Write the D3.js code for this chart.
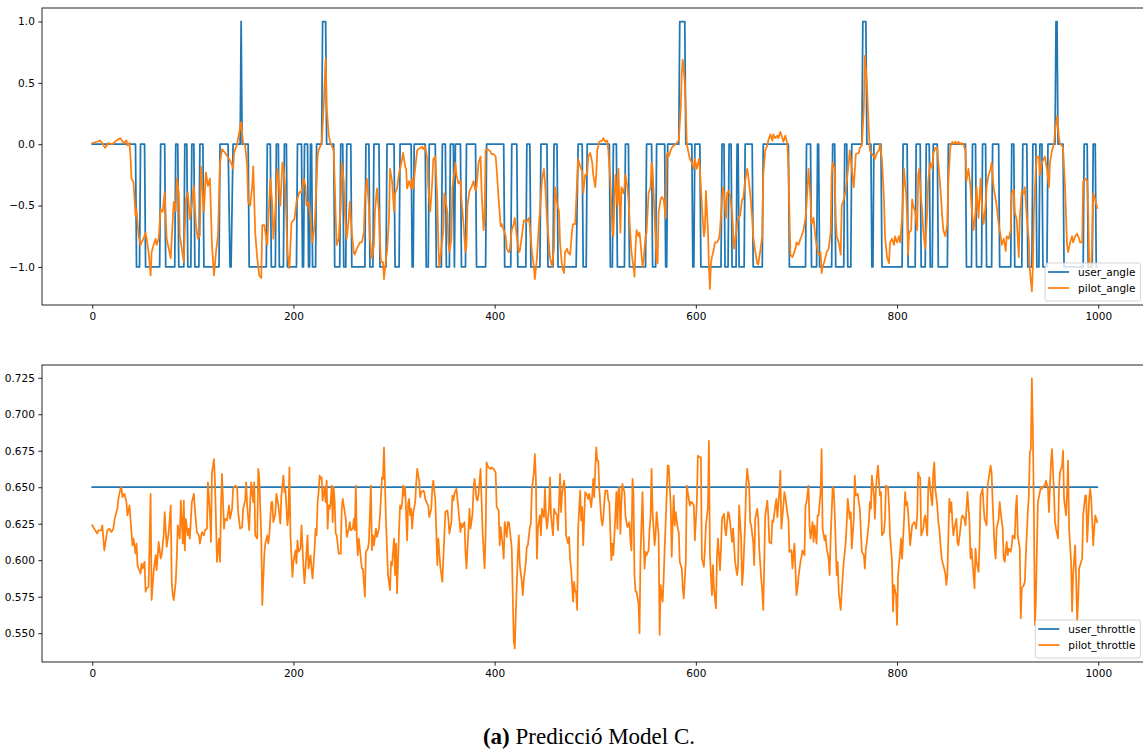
<!DOCTYPE html>
<html>
<head>
<meta charset="utf-8">
<script src="https://cdn.jsdelivr.net/npm/d3@7/dist/d3.min.js"></script>
<style>
  body { margin: 0; background: #fff; }
  svg text { font-family: "DejaVu Sans", sans-serif; }
</style>
</head>
<body>
<svg id="chart" width="1143" height="756"></svg>
<script>
// user_angle as runs of equal value: [first index, last index, value]
const userAngleRuns = [
  [0,43,0],[44,47,-1],[48,52,0],[53,67,-1],[68,72,0],[73,82,-1],[83,85,0],[86,91,-1],[92,94,0],[95,98,-1],
  [99,101,0],[102,106,-1],[107,110,0],[111,126,-1],[127,135,0],[136,136,-0.5],[137,138,-1],[139,139,-0.5],
  [140,147,0],[148,148,1],[149,155,0],[156,173,-1],[174,177,0],[178,182,-1],[183,185,0],[186,190,-1],
  [191,193,0],[194,203,-1],[204,208,0],[209,210,-1],[211,214,0],[215,216,-1],[217,218,0],[219,222,-1],
  [223,228,0],[229,232,1],[233,240,0],[241,246,-1],[247,249,0],[250,252,-1],[253,257,0],[258,271,-1],
  [272,275,0],[276,279,-1],[280,285,0],[286,292,-1],[293,300,0],[301,305,-1],[306,317,0],[318,319,-1],
  [320,331,0],[332,334,-1],[335,341,0],[342,347,-1],[348,351,0],[352,355,-1],[356,359,0],[360,360,-1],
  [361,366,0],[367,371,-1],[372,381,0],[382,391,-1],[392,409,0],[410,416,-1],[417,422,0],[423,431,-1],
  [432,435,0],[436,445,-1],[446,452,0],[453,458,-1],[459,462,0],[463,481,-1],[482,482,-0.5],[483,487,0],
  [488,491,-1],[492,514,0],[515,517,-1],[518,521,0],[522,529,-1],[530,533,0],[534,550,-1],[551,556,0],
  [557,560,-1],[561,569,0],[570,571,-1],[572,583,0],[584,589,1],[590,596,0],[597,598,-1],
  [599,604,0],[605,625,-1],[626,628,0],[629,632,-1],[633,635,0],[636,640,-1],[641,642,0],[643,648,-1],
  [649,656,0],[657,666,-1],[667,692,0],[693,709,-1],[710,714,0],[715,720,-1],[721,722,0],[723,735,-1],
  [736,738,0],[739,747,-1],[748,750,0],[751,754,-1],[755,765,0],[766,769,1],[770,774,0],[775,776,-1],
  [777,784,0],[785,805,-1],[806,810,0],[811,818,-1],[819,823,0],[824,828,-1],[829,832,0],[833,835,-1],
  [836,840,0],[841,850,-1],[851,868,0],[869,874,-1],[875,878,0],[879,884,-1],[885,888,0],[889,894,-1],
  [895,901,0],[902,913,-1],[914,916,0],[917,924,-1],[925,929,0],[930,934,-1],[935,938,0],[939,941,-1],
  [942,944,0],[945,949,-1],[950,957,0],[958,959,1],[960,965,0],[966,985,-1],[986,989,0],[990,994,-1],
  [995,997,0],[998,999,-1]
]

const pilotAngle = [
  [0,0.01],[5,0.02],[8,0.03],[13,-0.03],[16,0.01],[20,0],[24,0.03],[28,0.05],[31,0.01],[34,0.03],[35,-0.01],
  [37,0.01],[38,-0.1],[39,-0.28],[41,-0.31],[43,-0.58],[44,-0.53],[46,-0.74],[48,-0.82],[49,-0.8],[51,-0.77],
  [53,-0.72],[54,-0.77],[56,-0.88],[58,-1.07],[59,-0.88],[61,-0.82],[63,-0.77],[64,-0.82],[66,-0.77],[68,-0.53],
  [70,-0.55],[72,-0.39],[74,-0.77],[76,-0.85],[78,-0.93],[79,-0.77],[81,-0.47],[83,-0.55],[84,-0.28],[86,-0.39],
  [87,-0.74],[91,-0.96],[93,-0.45],[95,-0.39],[97,-0.61],[99,-0.5],[101,-0.34],[103,-0.66],[105,-0.77],[107,-0.74],
  [108,-0.18],[111,-0.55],[113,-0.23],[115,-0.34],[117,-0.28],[119,-0.82],[121,-1.07],[123,-0.88],[125,-0.74],
  [127,-0.15],[129,-0.04],[132,-0.07],[136,-0.12],[138,-0.15],[140,-0.2],[141,-0.07],[144,0],[146,0.09],[148,0.18],
  [149,0.09],[150,0.01],[152,-0.01],[154,-0.18],[155,-0.47],[157,-0.5],[159,-0.34],[160,-0.18],[162,-0.72],
  [164,-0.93],[166,-1.07],[168,-1.09],[169,-0.66],[171,-0.66],[174,-0.82],[175,-0.64],[177,-0.28],[179,-0.5],
  [180,-0.77],[182,-0.55],[184,-0.2],[185,-0.28],[187,-0.5],[189,-0.15],[190,-0.18],[192,-0.36],[194,-0.88],
  [196,-1.01],[198,-0.64],[201,-0.61],[203,-0.47],[206,-0.39],[208,-0.39],[210,-0.28],[212,-0.34],[213,-0.5],
  [215,-0.47],[217,-0.6],[218,-0.72],[219,-0.8],[221,-0.66],[222,-0.5],[223,-0.3],[224,-0.1],[225,-0.05],
  [227,-0.01],[228,0],[230,0.3],[232,0.7],[233,0.3],[235,0.08],[237,0],[238,-0.01],[240,-0.05],[241,-0.3],
  [242,-0.6],[243,-0.82],[245,-0.77],[247,-0.5],[248,-0.15],[250,-0.3],[251,-0.55],[253,-0.77],[255,-0.6],
  [256,-0.47],[258,-0.72],[260,-0.88],[261,-0.9],[263,-0.85],[265,-0.82],[266,-0.8],[268,-0.8],[270,-0.72],
  [271,-0.45],[273,-0.28],[275,-0.5],[276,-0.77],[278,-0.93],[280,-0.82],[281,-0.55],[283,-0.36],[285,-0.55],
  [286,-0.8],[287,-0.96],[289,-0.96],[290,-1.1],[292,-0.93],[293,-0.88],[295,-0.6],[296,-0.2],[298,-0.3],
  [300,-0.55],[301,-0.4],[303,-0.36],[305,-0.23],[306,-0.2],[308,-0.12],[309,-0.07],[311,-0.18],[312,-0.2],
  [313,-0.36],[315,-0.3],[317,-0.36],[318,-0.28],[319,-0.36],[321,-0.2],[323,-0.05],[324,-0.04],[326,-0.03],
  [328,-0.02],[329,-0.04],[331,-0.02],[333,-0.12],[334,-0.35],[336,-0.55],[338,-0.3],[339,-0.12],[341,-0.1],
  [343,-0.45],[344,-0.82],[345,-1.0],[347,-0.85],[349,-0.7],[350,-0.4],[351,-0.45],[353,-0.55],[354,-0.8],
  [355,-0.88],[357,-0.77],[358,-0.36],[359,-0.28],[360,-0.23],[361,-0.15],[362,-0.25],[364,-0.32],[366,-0.3],
  [367,-0.45],[369,-0.65],[371,-0.88],[372,-0.82],[373,-0.5],[375,-0.38],[377,-0.35],[379,-0.3],[381,-0.38],
  [382,-0.35],[384,-0.15],[386,-0.1],[387,-0.38],[389,-0.7],[390,-0.6],[391,-0.05],[393,-0.04],[396,-0.06],
  [397,-0.08],[399,-0.08],[401,-0.1],[402,-0.2],[404,-0.45],[406,-0.67],[407,-0.65],[409,-0.7],[411,-0.75],
  [412,-0.85],[414,-0.88],[415,-0.87],[417,-0.7],[419,-0.65],[420,-0.6],[422,-0.75],[424,-0.88],[425,-0.87],
  [427,-0.75],[429,-0.62],[430,-0.62],[432,-0.63],[434,-0.6],[435,-0.67],[437,-0.87],[439,-1.0],[440,-1.1],
  [442,-0.93],[444,-0.65],[445,-0.55],[447,-0.3],[449,-0.2],[450,-0.3],[452,-0.6],[454,-0.82],[455,-0.92],
  [457,-1.0],[459,-0.85],[460,-0.35],[462,-0.48],[464,-0.55],[465,-0.8],[467,-1.0],[469,-1.05],[470,-0.88],
  [472,-0.85],[473,-0.88],[475,-0.9],[477,-0.7],[478,-0.65],[480,-0.65],[482,-0.3],[483,-0.12],[485,-0.18],
  [487,-0.22],[488,-0.4],[490,-0.25],[492,-0.25],[493,-0.1],[495,-0.07],[497,-0.15],[498,-0.25],[500,-0.35],
  [501,-0.25],[502,-0.05],[504,0.02],[507,0.03],[508,0.05],[510,0.02],[512,0.03],[513,-0.05],[515,-0.3],
  [517,-0.7],[518,-0.75],[519,-0.5],[520,-0.25],[522,-0.5],[523,-0.2],[524,-0.45],[525,-0.72],[526,-0.35],
  [528,-0.4],[529,-0.35],[530,-0.25],[532,-0.35],[533,-0.45],[535,-0.75],[536,-0.88],[538,-1.0],[539,-1.08],
  [540,-0.85],[541,-0.7],[543,-0.75],[544,-0.72],[545,-0.8],[547,-1.0],[548,-0.95],[550,-0.75],[551,-0.72],
  [553,-0.4],[555,-0.35],[556,-0.15],[557,-0.2],[559,-0.6],[561,-0.95],[562,-0.97],[563,-0.55],[565,-0.45],
  [566,-0.43],[568,-0.45],[570,-0.6],[571,-0.1],[572,-0.07],[573,-0.1],[575,-0.05],[576,-0.03],[578,-0.01],
  [580,0],[581,0.01],[583,0.03],[585,0.3],[586,0.58],[587,0.69],[589,0.5],[590,0.3],[591,0],[593,-0.08],
  [594,-0.12],[596,-0.15],[598,-0.2],[599,-0.12],[601,-0.2],[603,-0.12],[604,-0.2],[606,-0.5],[608,-0.75],
  [609,-0.7],[610,-0.38],[612,-0.7],[613,-1.0],[614,-1.18],[615,-0.97],[616,-0.92],[618,-0.85],[619,-0.8],
  [621,-0.8],[623,-0.77],[624,-0.7],[626,-0.45],[627,-0.35],[628,-0.4],[630,-0.6],[631,-0.4],[633,-0.38],
  [634,-0.42],[636,-0.55],[638,-0.85],[639,-0.8],[641,-0.65],[642,-0.6],[644,-0.58],[646,-0.45],[647,-0.45],
  [649,-0.3],[651,-0.2],[652,-0.25],[654,-0.4],[656,-0.6],[657,-0.75],[659,-0.87],[661,-0.97],[662,-0.98],
  [664,-0.87],[666,-0.75],[667,-0.25],[669,-0.05],[671,-0.01],[672,0.03],[674,0.08],[676,0.03],[677,0.08],
  [679,0.05],[681,0.07],[682,0.05],[684,0.1],[686,0.05],[687,0.02],[689,0.07],[691,0],[692,-0.2],[694,-0.9],
  [696,-0.92],[697,-0.9],[699,-0.85],[700,-0.8],[702,-0.82],[704,-0.77],[705,-0.75],[707,-0.7],[709,-0.6],
  [710,-0.5],[712,-0.2],[714,-0.45],[715,-0.65],[717,-0.6],[719,-0.77],[720,-0.82],[722,-0.9],[724,-0.88],
  [725,-1.05],[726,-1.0],[728,-0.95],[730,-0.88],[732,-0.85],[734,-0.72],[735,-0.25],[736,-0.15],[738,-0.2],
  [739,-0.6],[740,-0.75],[742,-0.8],[744,-0.9],[745,-0.5],[747,-0.45],[749,-0.38],[750,-0.3],[752,-0.15],
  [753,-0.05],[755,-0.2],[757,-0.35],[759,-0.08],[762,-0.07],[763,-0.03],[765,-0.01],[767,0.3],[768,0.72],
  [770,0.5],[772,0.1],[773,-0.05],[775,-0.08],[777,-0.1],[778,-0.12],[780,-0.07],[782,-0.05],[783,0],
  [785,-0.12],[787,-0.45],[788,-0.75],[790,-0.92],[792,-0.97],[793,-0.8],[795,-0.77],[797,-0.82],[798,-0.75],
  [800,-0.8],[802,-0.75],[803,-0.8],[805,-0.6],[807,-0.2],[808,-0.32],[809,-0.4],[810,-0.6],[811,-0.9],
  [812,-0.72],[814,-0.7],[815,-0.45],[816,-0.5],[818,-0.55],[820,-0.7],[821,-0.25],[822,-0.2],[824,-0.45],
  [825,-0.55],[826,-0.7],[828,-0.85],[830,-0.55],[831,-0.3],[833,-0.15],[835,-0.2],[836,-0.08],[838,-0.03],
  [840,-0.03],[841,-0.15],[843,-0.35],[845,-0.6],[846,-0.7],[848,-0.75],[850,-0.65],[851,-0.3],[853,-0.02],
  [855,0.02],[856,0],[858,0.02],[860,0],[861,0.02],[863,0],[864,0.01],[866,0],[868,-0.05],[869,-0.3],
  [871,-0.2],[873,-0.35],[874,-0.5],[876,-0.7],[878,-0.55],[879,-0.35],[881,-0.6],[883,-0.28],[884,-0.45],
  [886,-0.65],[888,-0.5],[889,-0.35],[891,-0.25],[893,-0.2],[894,-0.15],[896,-0.35],[898,-0.45],[899,-0.5],
  [901,-0.65],[903,-0.75],[904,-0.82],[906,-0.77],[908,-0.87],[909,-0.75],[911,-0.77],[913,-0.7],[914,-0.4],
  [916,-0.37],[917,-0.55],[919,-0.62],[921,-0.92],[922,-0.6],[924,-0.38],[926,-0.4],[927,-0.35],[929,-0.6],
  [931,-0.78],[932,-1.02],[934,-1.2],[935,-1.0],[936,-0.55],[938,-0.2],[939,-0.1],[941,-0.1],[942,-0.25],
  [944,-0.15],[946,-0.12],[947,-0.1],[949,-0.2],[951,-0.35],[952,-0.15],[954,-0.05],[956,0],[957,0.1],
  [959,0.23],[961,0.05],[962,0],[964,-0.01],[965,-0.03],[967,-0.35],[969,-0.82],[970,-0.88],[972,-0.8],
  [974,-0.75],[975,-0.8],[977,-0.75],[979,-0.73],[980,-0.75],[982,-0.8],[984,-0.8],[985,-0.3],[987,-0.28],
  [989,-0.3],[990,-0.55],[991,-0.97],[993,-1.0],[994,-0.8],[995,-0.4],[997,-0.45],[999,-0.52]
]

const userThrottleRuns = [[0, 999, 0.65]]

const pilotThrottle = [
  [0,0.6239],[2,0.6216],[5,0.6182],[6,0.6205],[9,0.6205],[10,0.6239],[12,0.6068],[15,0.6205],[17,0.6216],
  [19,0.6193],[21,0.6216],[22,0.6273],[24,0.633],[25,0.6352],[26,0.642],[28,0.6489],[29,0.65],[30,0.6432],
  [32,0.6455],[34,0.6398],[35,0.6307],[37,0.6375],[38,0.6284],[40,0.6102],[41,0.6148],[43,0.6045],[44,0.6114],
  [45,0.5966],[46,0.5943],[48,0.5909],[49,0.5977],[50,0.5943],[52,0.5989],[53,0.5784],[54,0.5807],[56,0.5818],
  [58,0.6455],[59,0.5727],[61,0.592],[63,0.6034],[64,0.5932],[66,0.6125],[68,0.6011],[69,0.6034],[71,0.617],
  [72,0.633],[74,0.6091],[76,0.6193],[78,0.6375],[79,0.5852],[80,0.5761],[81,0.5727],[83,0.5852],[84,0.6011],
  [85,0.6239],[87,0.6148],[88,0.6409],[90,0.6114],[91,0.6409],[92,0.6068],[93,0.6284],[95,0.617],[96,0.6216],
  [97,0.6148],[99,0.6398],[101,0.6455],[102,0.6352],[104,0.6193],[106,0.617],[107,0.6114],[109,0.6193],
  [111,0.617],[112,0.6205],[114,0.6216],[115,0.6534],[117,0.6318],[118,0.6125],[119,0.6602],[121,0.6693],
  [122,0.6534],[124,0.5989],[126,0.6148],[127,0.5989],[128,0.6375],[129,0.6591],[131,0.6216],[132,0.6284],
  [134,0.6273],[136,0.6375],[137,0.6284],[139,0.6352],[140,0.6489],[142,0.6511],[144,0.65],[145,0.633],
  [147,0.6216],[149,0.6227],[150,0.6352],[152,0.6409],[153,0.6534],[154,0.6375],[156,0.6205],[157,0.6398],
  [158,0.6534],[160,0.6398],[161,0.6534],[162,0.617],[164,0.6148],[165,0.6625],[166,0.6568],[168,0.6159],
  [169,0.5693],[171,0.6034],[172,0.6114],[174,0.617],[175,0.6114],[176,0.617],[178,0.6398],[179,0.6398],
  [180,0.6261],[182,0.6318],[183,0.6455],[185,0.6375],[187,0.625],[188,0.6443],[190,0.658],[191,0.6466],
  [192,0.6489],[194,0.6239],[195,0.6307],[196,0.6636],[197,0.617],[199,0.5886],[200,0.5989],[202,0.6068],
  [203,0.5977],[204,0.6136],[205,0.6057],[207,0.608],[208,0.6239],[210,0.5943],[211,0.5841],[213,0.6057],
  [214,0.617],[215,0.5943],[217,0.6034],[218,0.5943],[219,0.5875],[221,0.608],[222,0.6216],[223,0.617],
  [224,0.6398],[225,0.6466],[226,0.658],[227,0.6557],[228,0.6568],[229,0.6409],[231,0.65],[232,0.6398],
  [233,0.6545],[234,0.6216],[235,0.6375],[236,0.6352],[237,0.6398],[238,0.6511],[239,0.6261],[240,0.65],
  [241,0.6398],[242,0.6182],[243,0.617],[245,0.6045],[247,0.6045],[248,0.6352],[249,0.642],[250,0.6375],
  [252,0.6284],[253,0.6159],[255,0.6216],[256,0.6261],[257,0.6205],[259,0.6216],[260,0.6284],[261,0.6205],
  [262,0.6511],[263,0.6148],[264,0.6034],[265,0.6148],[266,0.608],[268,0.5943],[269,0.5943],[271,0.575],
  [272,0.6057],[274,0.608],[275,0.6125],[277,0.6511],[278,0.6068],[279,0.617],[280,0.6102],[282,0.6216],
  [283,0.6159],[285,0.6216],[286,0.6307],[288,0.6568],[289,0.6557],[290,0.6773],[292,0.6261],[293,0.608],
  [294,0.5898],[296,0.5795],[297,0.5989],[298,0.5966],[300,0.6148],[301,0.5898],[302,0.6114],[303,0.5773],
  [305,0.6216],[306,0.6375],[307,0.6352],[308,0.6386],[309,0.6511],[310,0.6443],[311,0.65],[313,0.6136],
  [314,0.6386],[315,0.642],[316,0.6307],[317,0.6352],[318,0.6216],[319,0.6318],[321,0.6398],[322,0.6523],
  [323,0.6625],[325,0.6545],[326,0.6432],[327,0.6466],[329,0.6477],[330,0.6466],[331,0.642],[333,0.6386],
  [334,0.6375],[335,0.6295],[337,0.6352],[338,0.6489],[339,0.6545],[340,0.6477],[341,0.642],[343,0.5966],
  [344,0.6148],[346,0.5955],[348,0.5852],[349,0.6011],[351,0.633],[353,0.6341],[354,0.6284],[355,0.6182],
  [357,0.6261],[358,0.6443],[359,0.6409],[360,0.6455],[362,0.6489],[363,0.642],[364,0.6352],[366,0.6193],
  [367,0.625],[368,0.6227],[370,0.6261],[371,0.6057],[372,0.5943],[374,0.6216],[375,0.6352],[376,0.6216],
  [378,0.6318],[379,0.6489],[380,0.6557],[382,0.642],[383,0.6409],[384,0.6455],[386,0.6625],[387,0.642],
  [388,0.6193],[390,0.5943],[391,0.617],[392,0.667],[393,0.6648],[394,0.6636],[396,0.6625],[397,0.6636],
  [399,0.6625],[401,0.6602],[402,0.6364],[404,0.6341],[405,0.6102],[406,0.6227],[408,0.6102],[409,0.6011],
  [410,0.6261],[412,0.6159],[413,0.6261],[414,0.6261],[415,0.6216],[417,0.608],[418,0.5761],[419,0.5443],
  [420,0.5395],[421,0.5625],[423,0.6034],[424,0.617],[425,0.5966],[427,0.5852],[428,0.5761],[429,0.5864],
  [431,0.5989],[432,0.6091],[433,0.6102],[435,0.6227],[436,0.625],[437,0.6489],[439,0.6602],[440,0.6727],
  [441,0.6557],[442,0.6011],[443,0.6216],[445,0.6307],[446,0.617],[447,0.6352],[449,0.6295],[450,0.6489],
  [451,0.6307],[452,0.6216],[454,0.6352],[455,0.6568],[456,0.6307],[458,0.617],[459,0.6352],[460,0.633],
  [462,0.6307],[463,0.6205],[465,0.6591],[466,0.633],[467,0.6455],[469,0.6545],[470,0.6466],[471,0.617],
  [473,0.6114],[474,0.6159],[475,0.6],[476,0.5943],[478,0.5716],[479,0.5852],[480,0.5784],[481,0.5784],
  [482,0.5659],[483,0.6216],[484,0.6352],[485,0.6477],[486,0.6273],[487,0.6364],[488,0.6102],[489,0.6284],
  [490,0.6466],[492,0.6443],[493,0.642],[494,0.6455],[496,0.6364],[497,0.6443],[498,0.6557],[499,0.6432],
  [500,0.6625],[501,0.6773],[502,0.6682],[503,0.6682],[504,0.6489],[506,0.6284],[507,0.6239],[508,0.6284],
  [509,0.6398],[510,0.6477],[512,0.6477],[513,0.6409],[514,0.6398],[516,0.6],[517,0.6114],[518,0.6034],
  [520,0.6307],[521,0.6466],[522,0.6216],[523,0.6477],[524,0.65],[525,0.6182],[526,0.6398],[527,0.6523],
  [529,0.6466],[530,0.6307],[531,0.6261],[532,0.6227],[534,0.6261],[535,0.6125],[536,0.6068],[537,0.6557],
  [538,0.6455],[539,0.5898],[540,0.5784],[541,0.5784],[543,0.5705],[544,0.55],[545,0.6045],[547,0.6466],
  [548,0.617],[549,0.5943],[550,0.6057],[551,0.6034],[553,0.6068],[554,0.6216],[555,0.6295],[556,0.6625],
  [557,0.633],[559,0.6102],[560,0.6182],[561,0.633],[563,0.617],[564,0.5489],[565,0.583],[567,0.5716],
  [568,0.5875],[569,0.608],[571,0.6443],[572,0.6648],[573,0.6648],[575,0.6375],[576,0.6023],[577,0.6261],
  [578,0.6443],[579,0.6239],[580,0.633],[582,0.6216],[583,0.6193],[584,0.5989],[586,0.5943],[587,0.5807],
  [588,0.5739],[590,0.5989],[591,0.6511],[592,0.6466],[594,0.6375],[595,0.6398],[596,0.6398],[598,0.6375],
  [599,0.6136],[601,0.6398],[602,0.6716],[604,0.6705],[605,0.6705],[606,0.6011],[608,0.5955],[609,0.608],
  [610,0.6239],[612,0.6364],[613,0.6818],[614,0.6034],[616,0.5761],[617,0.5966],[618,0.5807],[620,0.567],
  [621,0.6034],[622,0.6148],[624,0.5932],[625,0.608],[626,0.6284],[628,0.6318],[629,0.6216],[630,0.617],
  [632,0.633],[633,0.6318],[634,0.6261],[636,0.6125],[637,0.6216],[638,0.6102],[639,0.5989],[641,0.5898],
  [642,0.5966],[643,0.6375],[645,0.6148],[646,0.583],[647,0.592],[649,0.6261],[650,0.6511],[651,0.6625],
  [653,0.6511],[654,0.6261],[655,0.6239],[657,0.6125],[658,0.5966],[659,0.6284],[661,0.6352],[662,0.6284],
  [663,0.608],[665,0.5875],[666,0.5784],[667,0.5659],[668,0.5989],[669,0.6307],[671,0.6409],[672,0.6307],
  [673,0.6125],[675,0.6114],[676,0.6273],[677,0.6261],[679,0.6375],[680,0.642],[681,0.6295],[683,0.6466],
  [684,0.6614],[685,0.6216],[687,0.6375],[688,0.6466],[689,0.6432],[691,0.6318],[692,0.6284],[693,0.6057],
  [695,0.6068],[696,0.5943],[697,0.6034],[698,0.6114],[700,0.5761],[701,0.5807],[702,0.5886],[704,0.5989],
  [705,0.6023],[706,0.6068],[708,0.6034],[709,0.6375],[710,0.6398],[712,0.6511],[713,0.6239],[714,0.6148],
  [716,0.6261],[717,0.6125],[718,0.6239],[720,0.6114],[721,0.6307],[722,0.6307],[724,0.6466],[725,0.6761],
  [726,0.6216],[728,0.6136],[729,0.617],[730,0.608],[732,0.6011],[733,0.5898],[734,0.6159],[736,0.65],
  [737,0.6489],[738,0.633],[740,0.5898],[741,0.5989],[742,0.5784],[744,0.5659],[745,0.5784],[746,0.5886],
  [747,0.5989],[749,0.6125],[750,0.6261],[751,0.642],[753,0.6284],[754,0.633],[755,0.608],[757,0.6284],
  [758,0.658],[759,0.6443],[761,0.6455],[762,0.6398],[763,0.6352],[765,0.6057],[767,0.6034],[768,0.5943],
  [769,0.608],[770,0.6125],[772,0.6261],[773,0.6398],[774,0.6352],[775,0.658],[777,0.6443],[778,0.6284],
  [779,0.6489],[780,0.658],[781,0.6648],[783,0.6443],[784,0.6466],[785,0.617],[787,0.6193],[788,0.6284],
  [789,0.6511],[791,0.65],[792,0.6375],[793,0.617],[795,0.5989],[796,0.5648],[797,0.583],[799,0.5761],
  [800,0.5557],[801,0.5898],[803,0.6057],[804,0.6148],[805,0.6011],[807,0.6284],[808,0.6466],[809,0.6375],
  [810,0.6398],[811,0.633],[813,0.6102],[814,0.617],[815,0.6239],[817,0.6261],[818,0.625],[819,0.6216],
  [820,0.6307],[821,0.6602],[822,0.6568],[823,0.6568],[824,0.617],[826,0.6216],[827,0.6284],[828,0.6307],
  [830,0.617],[831,0.6489],[832,0.6568],[834,0.642],[835,0.6375],[836,0.6602],[837,0.667],[838,0.6489],
  [840,0.6375],[841,0.6261],[842,0.6216],[844,0.6034],[845,0.5989],[846,0.5966],[848,0.5909],[849,0.583],
  [850,0.5898],[852,0.642],[853,0.633],[854,0.6398],[855,0.6261],[856,0.617],[857,0.6216],[859,0.6284],
  [860,0.6125],[861,0.6102],[863,0.6216],[864,0.6284],[865,0.6307],[867,0.6284],[868,0.6239],[869,0.6352],
  [870,0.6466],[872,0.6261],[873,0.6011],[874,0.608],[875,0.5989],[877,0.5807],[878,0.608],[879,0.5989],
  [881,0.592],[882,0.6102],[883,0.6443],[885,0.6489],[886,0.6375],[887,0.6284],[889,0.6239],[890,0.6511],
  [891,0.6557],[893,0.6648],[894,0.6602],[895,0.6398],[897,0.608],[898,0.6011],[899,0.6216],[901,0.6284],
  [902,0.6398],[903,0.633],[905,0.6216],[906,0.6011],[907,0.5989],[909,0.6125],[910,0.6034],[911,0.608],
  [913,0.6057],[914,0.6102],[915,0.617],[917,0.6148],[918,0.6352],[919,0.6443],[920,0.617],[922,0.608],
  [923,0.5602],[924,0.5807],[926,0.583],[927,0.5852],[928,0.6034],[930,0.633],[931,0.6443],[932,0.6739],
  [933,0.6761],[934,0.7245],[935,0.6898],[936,0.6352],[937,0.5557],[938,0.5716],[939,0.608],[940,0.6398],
  [942,0.6466],[943,0.65],[944,0.6489],[946,0.6511],[947,0.6511],[948,0.6545],[950,0.6489],[951,0.633],
  [952,0.6511],[953,0.667],[954,0.6761],[956,0.6466],[957,0.6261],[958,0.6216],[960,0.6148],[961,0.6489],
  [962,0.6602],[964,0.6648],[965,0.675],[966,0.642],[968,0.6307],[969,0.6466],[970,0.6682],[971,0.6216],
  [973,0.5989],[974,0.5648],[975,0.5898],[977,0.6102],[978,0.5875],[979,0.558],[980,0.5716],[981,0.5943],
  [983,0.5989],[984,0.6011],[985,0.6307],[987,0.6443],[988,0.6443],[989,0.6125],[991,0.642],[992,0.6489],
  [993,0.642],[995,0.6102],[996,0.6216],[997,0.6307],[999,0.6261]
]

const xTicks = [0, 200, 400, 600, 800, 1000]
const angleTicks = [-1.0, -0.5, 0.0, 0.5, 1.0]
const throttleTicks = [0.55, 0.575, 0.6, 0.625, 0.65, 0.675, 0.7, 0.725]
const captionLabel = "(a)"
const captionText = " Predicció Model C."

const blue = "#1f77b4"
const orange = "#ff7f0e"

const svg = d3.select("#chart")

const expandRuns = (runs) => runs.flatMap(([s, e, v]) => (s === e ? [[s, v]] : [[s, v], [e, v]]))

function padded([lo, hi]) {
  const p = (hi - lo) * 0.05
  return [lo - p, hi + p]
}

const frame = { left: 42, right: 1147.5 }

const xScale = d3.scaleLinear().domain(padded([0, 999])).range([frame.left, frame.right])

const panels = [
  {
    id: "angle",
    top: 8,
    bottom: 305,
    ticks: angleTicks,
    fmt: d3.format(".1f"),
    series: [
      { name: "user_angle", points: expandRuns(userAngleRuns), color: blue },
      { name: "pilot_angle", points: pilotAngle, color: orange },
    ],
  },
  {
    id: "throttle",
    top: 365,
    bottom: 662,
    ticks: throttleTicks,
    fmt: d3.format(".3f"),
    series: [
      { name: "user_throttle", points: expandRuns(userThrottleRuns), color: blue },
      { name: "pilot_throttle", points: pilotThrottle, color: orange },
    ],
  },
]

panels.forEach(drawPanel)
drawCaption()

function drawPanel(p) {
  const all = p.series.flatMap((s) => s.points.map((d) => d[1]))
  const yScale = d3.scaleLinear().domain(padded(d3.extent(all))).range([p.bottom, p.top])

  const g = svg.append("g").attr("class", `panel-${p.id}`)

  g.append("clipPath")
    .attr("id", `clip-${p.id}`)
    .append("rect")
    .attr("x", frame.left)
    .attr("y", p.top)
    .attr("width", frame.right - frame.left)
    .attr("height", p.bottom - p.top)

  const line = d3
    .line()
    .x((d) => xScale(d[0]))
    .y((d) => yScale(d[1]))

  g.append("g")
    .attr("clip-path", `url(#clip-${p.id})`)
    .selectAll("path.series")
    .data(p.series)
    .join("path")
    .classed("series", true)
    .attr("d", (s) => line(s.points))
    .attr("fill", "none")
    .attr("stroke", (s) => s.color)
    .attr("stroke-width", 1.75)
    .attr("stroke-linejoin", "round")
    .attr("stroke-linecap", "square")

  const xAxis = g
    .append("g")
    .attr("transform", `translate(0,${p.bottom})`)
    .call(d3.axisBottom(xScale).tickValues(xTicks).tickFormat(d3.format("d")).tickSize(3.7).tickPadding(3.5))
  const yAxis = g
    .append("g")
    .attr("transform", `translate(${frame.left},0)`)
    .call(d3.axisLeft(yScale).tickValues(p.ticks).tickFormat(p.fmt).tickSize(3.7).tickPadding(3.5))

  ;[xAxis, yAxis].forEach((a) => {
    a.select(".domain").remove()
    a.selectAll("line").attr("stroke", "#000").attr("stroke-width", 0.85)
    a.selectAll("text").attr("fill", "#000").style("font-size", "10.5px")
  })

  g.append("rect")
    .attr("x", frame.left)
    .attr("y", p.top)
    .attr("width", frame.right - frame.left)
    .attr("height", p.bottom - p.top)
    .attr("fill", "none")
    .attr("stroke", "#000")
    .attr("stroke-width", 0.85)

  drawLegend(g, p)
}

function drawLegend(g, p) {
  const lg = g.append("g")
  const box = lg.append("rect")
  const items = lg
    .selectAll("g.item")
    .data(p.series)
    .join("g")
    .classed("item", true)
  items
    .append("line")
    .attr("x1", 3)
    .attr("x2", 24)
    .attr("y1", (d, i) => 9 + i * 16)
    .attr("y2", (d, i) => 9 + i * 16)
    .attr("stroke", (d) => d.color)
    .attr("stroke-width", 1.75)
  items
    .append("text")
    .attr("x", 33)
    .attr("y", (d, i) => 9 + i * 16)
    .attr("dy", "0.35em")
    .style("font-size", "10.5px")
    .attr("fill", "#000")
    .text((d) => d.name)

  const textW = d3.max(items.selectAll("text").nodes(), (n) => n.getComputedTextLength())
  const w = 33 + textW + 5
  const h = 38
  box
    .attr("width", w)
    .attr("height", h)
    .attr("rx", 2)
    .attr("fill", "#fff")
    .attr("fill-opacity", 0.8)
    .attr("stroke", "#cccccc")
    .attr("stroke-width", 0.85)

  lg.attr("transform", `translate(${frame.right - 7 - w},${p.bottom - 4 - h})`)
}

function drawCaption() {
  const t = svg
    .append("text")
    .attr("x", 589)
    .attr("y", 744)
    .attr("text-anchor", "middle")
    .style("font-family", '"Liberation Serif", "Times New Roman", serif')
    .style("font-size", "23px")
    .attr("fill", "#000")
  t.append("tspan").attr("font-weight", "bold").text(captionLabel)
  t.append("tspan").text(captionText)
}
</script>
</body>
</html>
